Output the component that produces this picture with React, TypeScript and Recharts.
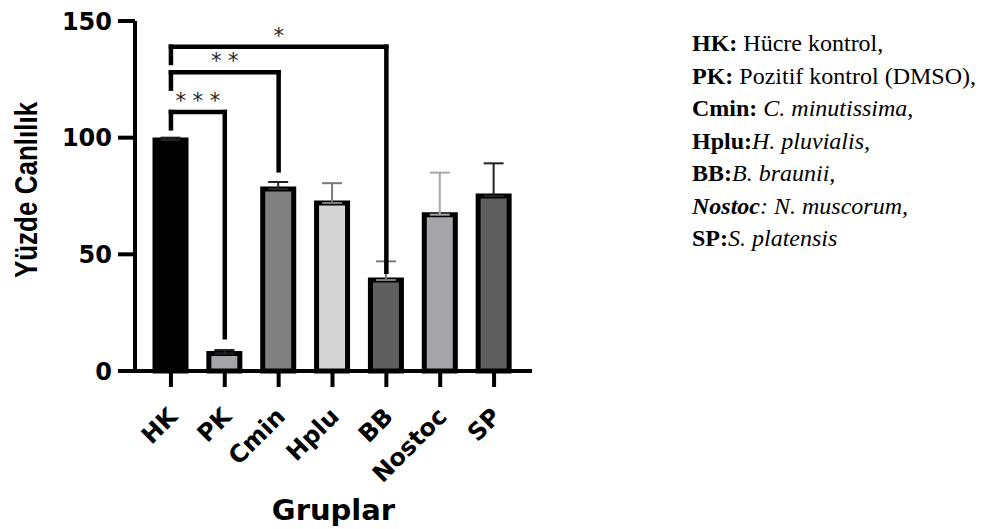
import React from 'react';
import { BarChart, Bar, Cell, XAxis, YAxis, ErrorBar, ReferenceLine } from 'recharts';

// groups and mean viability (%) with one-sided error bars
const groups = ['HK', 'PK', 'Cmin', 'Hplu', 'BB', 'Nostoc', 'SP'];
const viability = [99, 7.5, 78, 72, 39, 67, 75];
const sem = [1, 1.5, 3, 8.5, 8, 18, 14];
const barColors = ['#000000', '#a4a4a9', '#808080', '#d5d5d5', '#5f5f5f', '#a4a4a9', '#5f5f5f'];
const errTone = ['dark', 'dark', 'dark', 'mid', 'mid', 'light', 'dark'];
const yTicks = [0, 50, 100, 150];

// significance brackets: HK vs group
const brackets = [
  { to: 'PK', top: 111, leftEnd: 104, rightEnd: 14.5, label: '* * *' },
  { to: 'Cmin', top: 128, leftEnd: 121, rightEnd: 86, label: '* *' },
  { to: 'BB', top: 139, leftEnd: 132, rightEnd: 42.5, label: '*' },
];

// legend on the right
const legendAbbr = ['HK:', 'PK:', 'Cmin:', 'Hplu:', 'BB:', 'Nostoc', 'SP:'];
const legendText = [
  ' Hücre kontrol,',
  ' Pozitif kontrol (DMSO),',
  ' C. minutissima,',
  'H. pluvialis,',
  'B. braunii,',
  ': N. muscorum,',
  'S. platensis',
];
const legendItalic = [false, false, true, true, true, true, true];

const data = groups.map((g, i) => ({
  group: g,
  value: viability[i],
  errDark: errTone[i] === 'dark' ? [0, sem[i]] : undefined,
  errMid: errTone[i] === 'mid' ? [0, sem[i]] : undefined,
  errLight: errTone[i] === 'light' ? [0, sem[i]] : undefined,
}));

const FONT = '"DejaVu Sans", sans-serif';
const ARIAL = '"Liberation Sans", Arial, sans-serif';

function XTick(props: any) {
  const { x, y, payload } = props;
  return (
    <text
      x={x + 8}
      y={y + 29}
      transform={`rotate(-45 ${x + 8} ${y + 29})`}
      textAnchor="end"
      fontFamily={FONT}
      fontWeight="bold"
      fontSize={24}
      fill="#000"
    >
      {payload.value}
    </text>
  );
}

// rotated y title, glyphs a bit wider like the original export
function YTitle() {
  return (
    <text
      transform="translate(37 190) rotate(-90) scale(1 1.2)"
      textAnchor="middle"
      fontFamily={ARIAL}
      fontWeight="bold"
      fontSize={26}
      fill="#000"
    >
      Yüzde Canlılık
    </text>
  );
}

export default function App() {
  const line = { stroke: '#000', strokeWidth: 4 };
  return (
    <div style={{ position: 'absolute', left: 0, top: 0, width: 984, height: 529, background: '#fff' }}>
      <BarChart
        width={570}
        height={529}
        data={data}
        margin={{ top: 21, right: 38, left: 0, bottom: 0 }}
      >
        <XAxis
          dataKey="group"
          height={158}
          padding={{ left: 9, right: 11 }}
          axisLine={line}
          tickLine={line}
          tickSize={16}
          tick={<XTick />}
          interval={0}
          label={{
            value: 'Gruplar',
            position: 'insideBottom',
            offset: 9,
            style: { fontFamily: FONT, fontWeight: 'bold', fontSize: 29, fill: '#000' },
          }}
        />
        <YAxis
          width={135}
          domain={[0, 150]}
          ticks={yTicks}
          axisLine={line}
          tickLine={line}
          tickSize={17}
          tickMargin={6}
          tick={{ fontFamily: FONT, fontWeight: 'bold', fontSize: 24, fill: '#000' }}
          label={{ content: <YTitle /> }}
        />
        <Bar dataKey="value" barSize={31} stroke="#000" strokeWidth={5} isAnimationActive={false}>
          {data.map((d, i) => (
            <Cell key={d.group} fill={barColors[i]} />
          ))}
          <ErrorBar dataKey="errDark" width={10} stroke="#222" strokeWidth={2} direction="y" />
          <ErrorBar dataKey="errMid" width={10} stroke="#7a7a7a" strokeWidth={2} direction="y" />
          <ErrorBar dataKey="errLight" width={10} stroke="#a8a8a8" strokeWidth={2} direction="y" />
        </Bar>
        {brackets.map((b) => [
          <ReferenceLine
            key={b.to + 'h'}
            segment={[{ x: 'HK', y: b.top }, { x: b.to, y: b.top }]}
            stroke="#000"
            strokeWidth={4.5}
            strokeLinecap="square"
            label={{
              value: b.label,
              position: 'top',
              offset: 4,
              style: { fontFamily: FONT, fontSize: 21, fill: '#222' },
            }}
          />,
          <ReferenceLine
            key={b.to + 'l'}
            segment={[{ x: 'HK', y: b.top }, { x: 'HK', y: b.leftEnd }]}
            stroke="#000"
            strokeWidth={4.5}
            strokeLinecap="square"
          />,
          <ReferenceLine
            key={b.to + 'r'}
            segment={[{ x: b.to, y: b.top }, { x: b.to, y: b.rightEnd }]}
            stroke="#000"
            strokeWidth={4.5}
            strokeLinecap="square"
          />,
        ])}
      </BarChart>
      <div style={{ position: 'absolute', left: 692, top: 0, fontFamily: '"Liberation Serif", "Times New Roman", serif', fontSize: 24, color: '#000' }}>
        {legendAbbr.map((a, i) => (
          <div key={a} style={{ position: 'absolute', left: 0, top: 29 + i * 32.5, whiteSpace: 'nowrap', lineHeight: '28px' }}>
            {a === 'Nostoc' ? <b><i>{a}</i></b> : <b>{a}</b>}
            {legendItalic[i] ? <i>{legendText[i]}</i> : legendText[i]}
          </div>
        ))}
      </div>
    </div>
  );
}
